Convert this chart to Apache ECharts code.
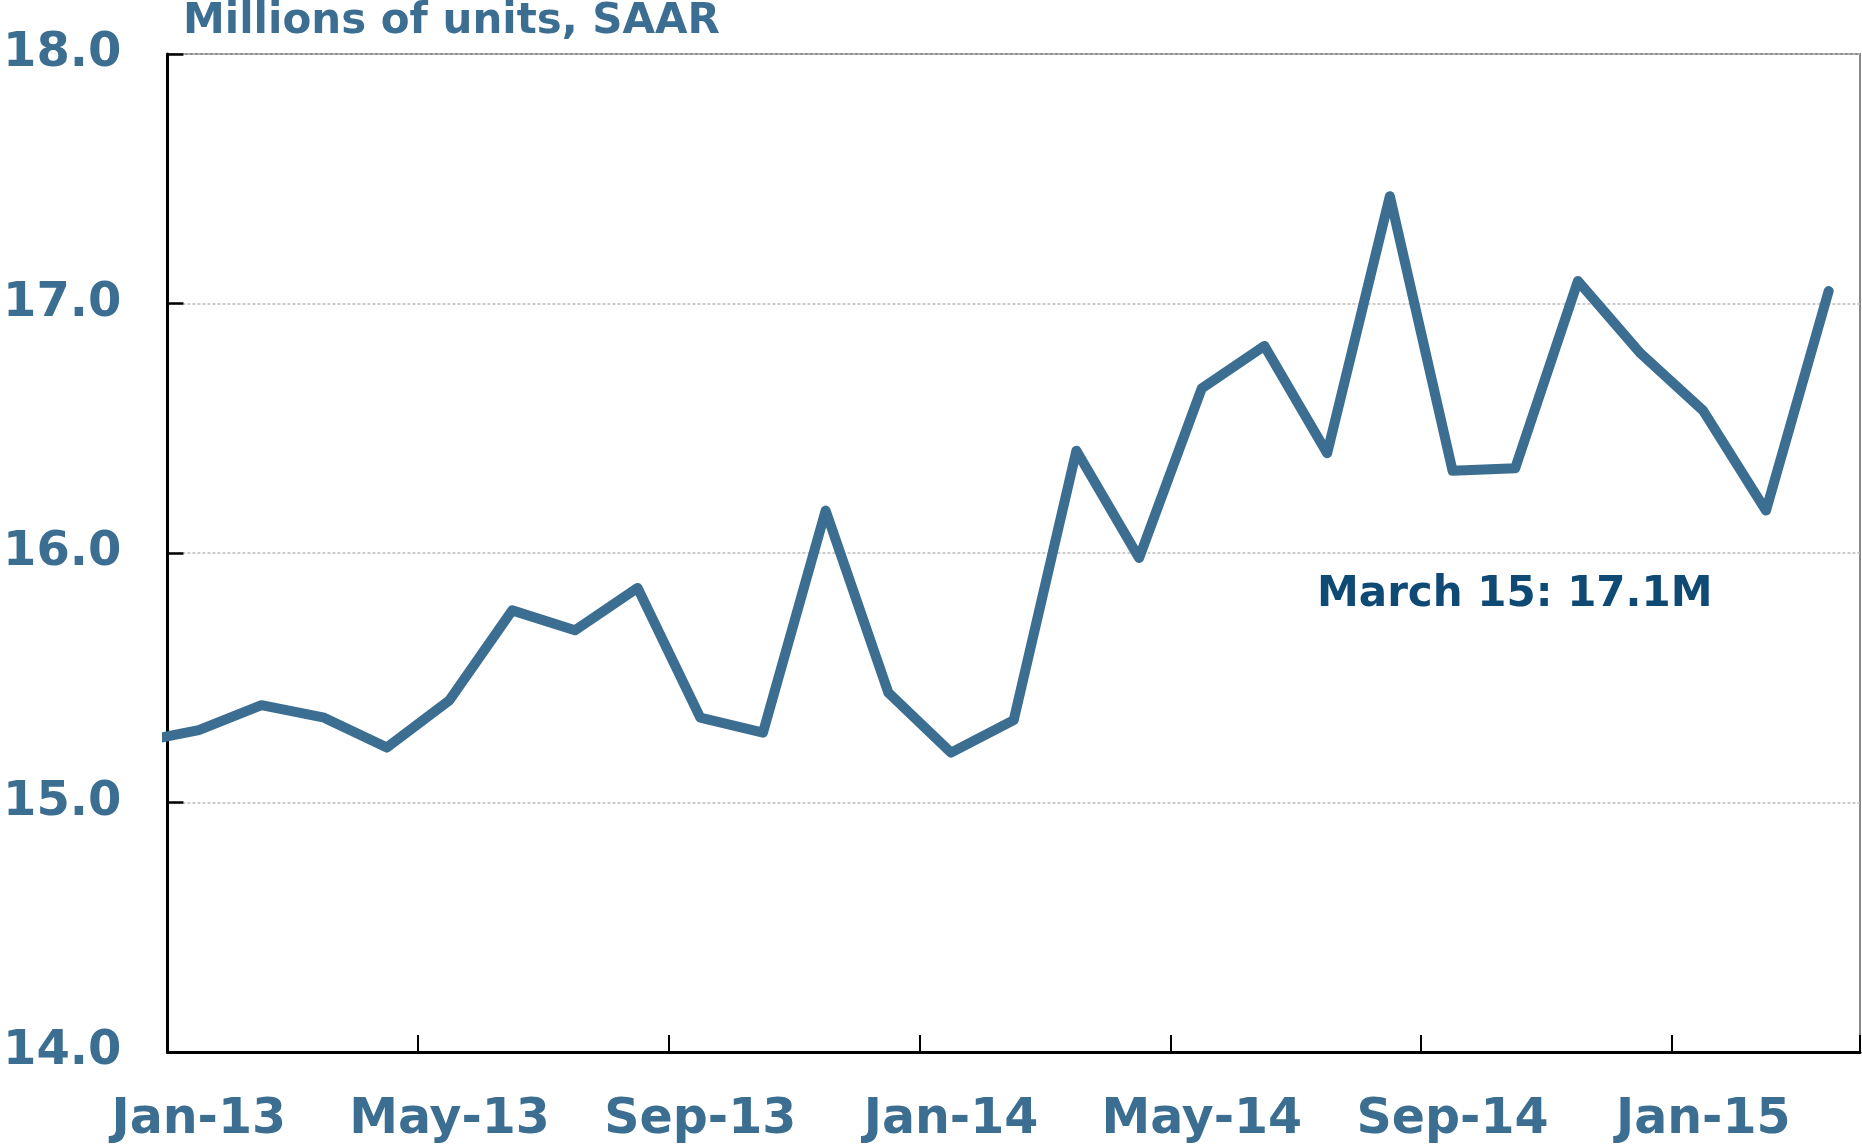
<!DOCTYPE html>
<html>
<head>
<meta charset="utf-8">
<script src="https://cdn.jsdelivr.net/npm/echarts@6/dist/echarts.min.js"></script>
<style>
  html, body { margin: 0; padding: 0; background: #fff; }
  #chart { width: 1862px; height: 1146px; }
</style>
</head>
<body>
<div id="chart"></div>
<script>
// monthly light vehicle sales, millions of units SAAR
var months = ['Jan-13', 'Feb-13', 'Mar-13', 'Apr-13', 'May-13', 'Jun-13', 'Jul-13', 'Aug-13', 'Sep-13',
    'Oct-13', 'Nov-13', 'Dec-13', 'Jan-14', 'Feb-14', 'Mar-14', 'Apr-14', 'May-14', 'Jun-14', 'Jul-14',
    'Aug-14', 'Sep-14', 'Oct-14', 'Nov-14', 'Dec-14', 'Jan-15', 'Feb-15', 'Mar-15'];
var sales = [15.29, 15.39, 15.34, 15.22, 15.41, 15.77, 15.69, 15.86, 15.34,
    15.28, 16.17, 15.44, 15.20, 15.33, 16.41, 15.98, 16.66, 16.83, 16.40,
    17.43, 16.33, 16.34, 17.09, 16.80, 16.57, 16.17, 17.05];
// Dec-12, only the stub that enters from the left edge shows
var leadValue = 15.24;
var yTicks = [14, 15, 16, 17, 18];
var note = 'March 15: 17.1M';

var blue = '#3c6e91';
var navy = '#0f4a75';
var font = '"DejaVu Sans", Verdana, sans-serif';

var points = [[-1, leadValue]];
for (var i = 0; i < sales.length; i++) {
    points.push([i, sales[i]]);
}

var mychart = echarts.init(document.getElementById('chart'));
var option = {
    animation: false,
    title: {
        text: 'Millions of units, SAAR',
        left: 178,
        top: -4,
        textStyle: { fontFamily: font, fontWeight: 'bold', fontSize: 42, color: blue }
    },
    grid: {
        left: 166,
        top: 54,
        right: 2,
        bottom: 94,
        show: true,
        borderColor: '#888',
        borderWidth: 2
    },
    xAxis: [
        {
            type: 'category',
            data: months,
            boundaryGap: true,
            axisLine: { show: true, lineStyle: { color: '#000', width: 3 } },
            axisTick: {
                show: true,
                inside: true,
                length: 17,
                // every 4th month boundary, none at the right edge
                interval: function (idx) { return idx % 4 === 0 && idx < months.length; },
                lineStyle: { color: '#000', width: 2 }
            },
            axisLabel: {
                interval: 3,
                margin: 44,
                color: blue,
                fontFamily: font,
                fontWeight: 'bold',
                fontSize: 49
            },
            splitLine: { show: false }
        },
        {
            // hidden axis used to place the line, half a band past each edge
            type: 'value',
            min: -0.5,
            max: months.length - 0.5,
            show: false
        }
    ],
    yAxis: {
        type: 'value',
        min: yTicks[0],
        max: yTicks[yTicks.length - 1],
        interval: 1,
        axisLine: { show: true, onZero: false, lineStyle: { color: '#000', width: 3 } },
        axisTick: { show: true, inside: true, length: 16, lineStyle: { color: '#000', width: 2.5 } },
        axisLabel: {
            margin: 46,
            color: blue,
            fontFamily: font,
            fontWeight: 'bold',
            fontSize: 48,
            formatter: function (v) { return v.toFixed(1); }
        },
        splitLine: { show: true, lineStyle: { color: '#bbb', width: 1.5, type: [3, 2] } }
    },
    series: [
        {
            type: 'line',
            xAxisIndex: 1,
            data: points,
            showSymbol: false,
            clip: true,
            lineStyle: { color: blue, width: 10, join: 'round', cap: 'round' }
        }
    ],
    graphic: [
        {
            type: 'text',
            x: 1317,
            y: 595,
            style: {
                text: note,
                font: 'bold 42px ' + font,
                fill: navy,
                verticalAlign: 'middle'
            }
        }
    ]
};
mychart.setOption(option);
</script>
</body>
</html>
